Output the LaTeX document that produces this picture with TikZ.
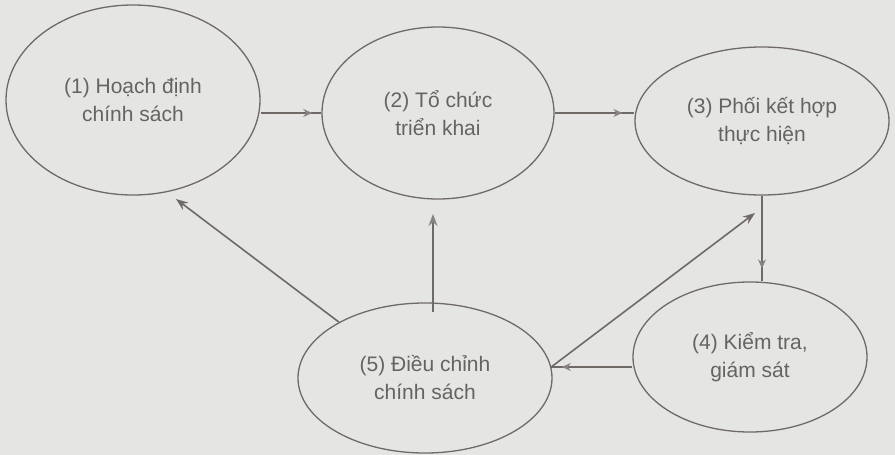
\documentclass[tikz,border=0pt]{standalone}
\usepackage{fontspec}
\setmainfont{Liberation Sans}
\usetikzlibrary{shapes.geometric,arrows.meta,decorations.markings,calc}
\definecolor{bg}{RGB}{229,229,227}
\definecolor{ln}{RGB}{112,106,102}
\definecolor{tx}{RGB}{100,100,100}
\definecolor{hd}{RGB}{135,131,129}
\begin{document}
\begin{tikzpicture}[x=1pt,y=-1pt,
  ell/.style={ellipse,draw=ln,line width=1.3pt,inner sep=0pt,text=tx,
    font=\fontsize{21}{28}\selectfont,align=center},
  conn/.style={draw=ln,line width=1.6pt},
  midarr/.style={postaction={decorate},decoration={markings,
    mark=at position #1 with {\arrow[hd]{Stealth[length=9pt,width=8pt]}}}},
  endarr/.style={-{Stealth[length=12pt,width=9pt]}},
  lightend/.style={-{Stealth[length=12pt,width=9pt,color=hd]}}]
\fill[bg] (0,0) rectangle (895,455);
\useasboundingbox (0,0) rectangle (895,455);
\node[ell,minimum width=254pt,minimum height=190pt] (e1) at (133,100) {(1) Hoạch định\\chính sách};
\node[ell,minimum width=232pt,minimum height=172pt] (e2) at (438,113) {(2) Tổ chức\\triển khai};
\node[ell,minimum width=254pt,minimum height=148pt] (e3) at (762,121) {(3) Phối kết hợp\\thực hiện};
\node[ell,minimum width=234pt,minimum height=150pt] (e4) at (750,357) {(4) Kiểm tra,\\giám sát};
\node[ell,minimum width=254pt,minimum height=150pt] (e5) at (425,378) {(5) Điều chỉnh\\chính sách};
\coordinate (t1) at (176,199);
\coordinate (t2) at (433,214);
\coordinate (t3) at (755,213);
\draw[conn,midarr=0.85] (e1.east |- e2.west) -- (e2.west);
\draw[conn,midarr=0.85] (e2.east) -- (e3.west |- e2.east);
\draw[conn,midarr=0.85] (e3.south) -- (e3.south |- e4.north);
\draw[conn,midarr=0.87] (e4.west |- e5.5) -- (e5.5);
\draw[conn,endarr] (e5.5) -- (t3);
\draw[conn,lightend] ([xshift=8pt,yshift=-10pt]e5.north) -- (t2);
\draw[conn,endarr] (e5.147) -- (t1);
\end{tikzpicture}
\end{document}
